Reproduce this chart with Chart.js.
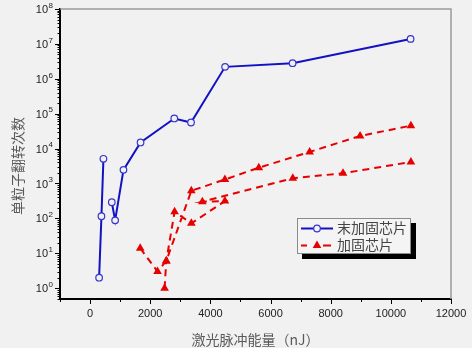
<!DOCTYPE html>
<html>
<head>
<meta charset="utf-8">
<script src="https://cdn.jsdelivr.net/npm/chart.js@4/dist/chart.umd.min.js"></script>
<style>
  html, body { margin: 0; padding: 0; background: #f1f1f1; }
  #c { display: block; }
</style>
</head>
<body>
<canvas id="c" width="472" height="348"></canvas>
<script>
// Single event upsets vs. laser pulse energy
const seriesNames = ['末加固芯片', '加固芯片'];

// unhardened chip (gap between the two runs marked by null)
const blueX = [300, 378, 444, null, 722, 833, 1111, 1678, 2800, 3356, 4489, 6733, 10656];
const blueY = [2, 115, 5100, null, 290, 88, 2460, 15000, 73000, 56000, 2200000, 2800000, 13900000];

// hardened chip, two measurement runs separated by null
const redX = [1667, 2243, 2533, 3367, 4483, 5610, 7300, 8977, 10667, null,
              2477, 2533, 2810, 3367, 4483, 3733, 6740, 8410, 10667];
const redY = [14, 3, 6, 620, 1300, 2840, 8000, 23000, 45500, null,
              1, 6, 155, 72, 314, 300, 1420, 1960, 4140];

const xTicks = [0, 2000, 4000, 6000, 8000, 10000, 12000];
const yExponents = [0, 1, 2, 3, 4, 5, 6, 7, 8];

const xTitle = '激光脉冲能量（nJ）';
const yTitle = '单粒子翻转次数';

function toPoints(xs, ys) {
  return xs.map((x, i) => ({ x: x, y: ys[i] }));
}

const BLUE = '#1212c4';
const RED = '#e60000';
const CJK = '"Noto Sans CJK SC", "Noto Sans", sans-serif';
const LATIN = '"Liberation Sans", Arial, sans-serif';

const decor = {
  id: 'decor',
  beforeDatasetsDraw(chart) {
    const ctx = chart.ctx;
    const a = chart.chartArea;
    ctx.save();
    // top and right frame
    ctx.strokeStyle = '#9a9a9a';
    ctx.lineWidth = 1.5;
    ctx.beginPath();
    ctx.moveTo(a.left, a.top);
    ctx.lineTo(a.right, a.top);
    ctx.lineTo(a.right, a.bottom);
    ctx.stroke();
    ctx.restore();
  },
  afterDraw(chart) {
    const ctx = chart.ctx;
    const a = chart.chartArea;
    const xs = chart.scales.x;
    const ys = chart.scales.y;
    ctx.save();
    ctx.strokeStyle = '#000';
    ctx.lineWidth = 1;

    // x tick marks (major every 2000, minor every 1000)
    for (let v = xs.min; v <= xs.max; v += 1000) {
      const px = Math.round(xs.getPixelForValue(v)) + 0.5;
      const len = (v % 2000 === 0) ? 5 : 3;
      ctx.beginPath();
      ctx.moveTo(px, a.bottom);
      ctx.lineTo(px, a.bottom + len);
      ctx.stroke();
    }

    // y tick marks (log decades + minor 2..9)
    for (let e = -1; e <= 8; e++) {
      for (let m = 1; m <= 9; m++) {
        const v = m * Math.pow(10, e);
        if (v < ys.min || v > ys.max) continue;
        const py = Math.round(ys.getPixelForValue(v)) + 0.5;
        const len = (m === 1) ? 5 : 2.5;
        ctx.beginPath();
        ctx.moveTo(a.left - len, py);
        ctx.lineTo(a.left, py);
        ctx.stroke();
      }
    }

    // y tick labels 10^n
    ctx.fillStyle = '#222';
    ctx.textBaseline = 'middle';
    yExponents.forEach(e => {
      const py = ys.getPixelForValue(Math.pow(10, e));
      ctx.font = '8px ' + LATIN;
      const sup = String(e);
      const sw = ctx.measureText(sup).width;
      const supLeft = 53 - sw;
      ctx.textAlign = 'left';
      ctx.fillText(sup, supLeft, py - 3.5);
      ctx.font = '11px ' + LATIN;
      ctx.textAlign = 'right';
      ctx.fillText('10', supLeft - 0.5, py + 1);
    });

    // y axis title
    ctx.save();
    ctx.translate(18, 166);
    ctx.rotate(-Math.PI / 2);
    ctx.font = '14px ' + CJK;
    ctx.fillStyle = '#5a5a5a';
    ctx.textAlign = 'center';
    ctx.textBaseline = 'middle';
    ctx.fillText(yTitle, 0, 0);
    ctx.restore();

    // legend box with shadow
    const lx = 297, ly = 218, lw = 114, lh = 36;
    ctx.fillStyle = '#000';
    ctx.fillRect(lx + 5, ly + 5, lw, lh);
    ctx.fillStyle = '#f4f4f4';
    ctx.fillRect(lx, ly, lw, lh);
    ctx.strokeStyle = '#8a8a8a';
    ctx.lineWidth = 1;
    ctx.strokeRect(lx + 0.5, ly + 0.5, lw - 1, lh - 1);

    // row 1: blue line with open circle
    let ry = 228.5;
    ctx.strokeStyle = BLUE;
    ctx.lineWidth = 2;
    ctx.beginPath();
    ctx.moveTo(301, ry); ctx.lineTo(333, ry);
    ctx.stroke();
    ctx.fillStyle = '#f4f4f4';
    ctx.strokeStyle = '#3535cc';
    ctx.lineWidth = 1.2;
    ctx.beginPath();
    ctx.arc(317, ry, 3.3, 0, Math.PI * 2);
    ctx.fill(); ctx.stroke();

    // row 2: red dashed with triangle
    ry = 245.5;
    ctx.strokeStyle = RED;
    ctx.lineWidth = 2;
    ctx.beginPath();
    ctx.moveTo(301, ry); ctx.lineTo(307, ry);
    ctx.moveTo(323, ry); ctx.lineTo(331, ry);
    ctx.stroke();
    ctx.fillStyle = RED;
    ctx.beginPath();
    const r = 5;
    ctx.moveTo(317, ry - r);
    ctx.lineTo(317 + r * 0.866, ry + r * 0.5);
    ctx.lineTo(317 - r * 0.866, ry + r * 0.5);
    ctx.closePath();
    ctx.fill();

    ctx.fillStyle = '#444';
    ctx.font = '14px ' + CJK;
    ctx.textAlign = 'left';
    ctx.textBaseline = 'middle';
    ctx.fillText(seriesNames[0], 337, 228);
    ctx.fillText(seriesNames[1], 337, 245);

    ctx.restore();
  }
};

new Chart(document.getElementById('c'), {
  type: 'line',
  data: {
    datasets: [
      {
        label: seriesNames[0],
        data: toPoints(blueX, blueY),
        borderColor: BLUE,
        borderWidth: 2,
        pointStyle: 'circle',
        pointRadius: 3.3,
        pointBorderWidth: 1.2,
        pointBorderColor: '#3535cc',
        pointBackgroundColor: '#f1f1f1',
        spanGaps: false,
        tension: 0
      },
      {
        label: seriesNames[1],
        data: toPoints(redX, redY),
        borderColor: RED,
        borderWidth: 2,
        borderDash: [7, 5],
        pointStyle: 'triangle',
        pointRadius: 5,
        pointBorderWidth: 0,
        pointBackgroundColor: RED,
        pointBorderColor: RED,
        spanGaps: false,
        tension: 0
      }
    ]
  },
  options: {
    responsive: false,
    animation: false,
    devicePixelRatio: 1,
    layout: { padding: { top: 9, right: 21, left: 0, bottom: 0 } },
    plugins: {
      legend: { display: false },
      tooltip: { enabled: false }
    },
    scales: {
      x: {
        type: 'linear',
        min: -1000,
        max: 12000,
        afterBuildTicks(scale) {
          scale.ticks = xTicks.map(v => ({ value: v }));
        },
        afterFit(scale) { scale.height = 49; },
        grid: { display: false, drawTicks: true, tickLength: 5 },
        border: { display: true, color: '#000', width: 2 },
        ticks: {
          autoSkip: false,
          maxRotation: 0,
          padding: 3,
          color: '#222',
          font: { family: LATIN, size: 11 },
          callback: v => String(v)
        },
        title: {
          display: true,
          text: xTitle,
          color: '#5a5a5a',
          font: { family: CJK, size: 14 },
          padding: { top: 2, bottom: 0 }
        }
      },
      y: {
        type: 'logarithmic',
        min: 0.49,
        max: 1e8,
        afterFit(scale) { scale.width = 60; },
        grid: { display: false, drawTicks: false },
        border: { display: true, color: '#000', width: 2 },
        ticks: { display: false }
      }
    }
  },
  plugins: [decor]
});
</script>
</body>
</html>
